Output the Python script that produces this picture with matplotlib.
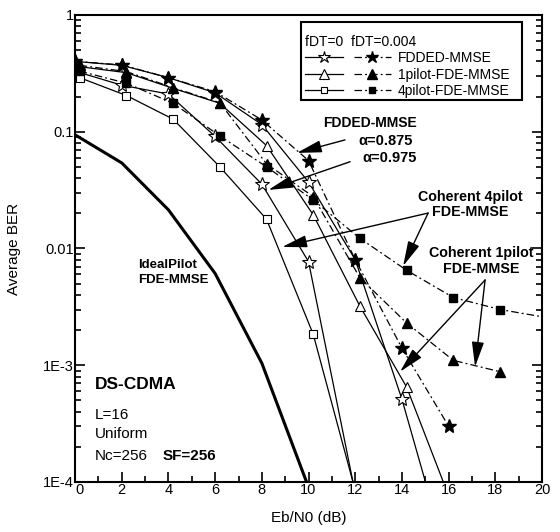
import numpy as np
import matplotlib.pyplot as plt
import matplotlib.transforms as mtransforms
from matplotlib.lines import Line2D
from matplotlib.patches import Rectangle
from matplotlib.legend_handler import HandlerTuple

plt.rcParams['font.family'] = ['Liberation Sans', 'DejaVu Sans']

# Eb/N0 points (stars on even dB, pilot curves slightly shifted as in the source)
snr_star = [0, 2, 4, 6, 8, 10, 12, 14, 16]
snr_pilot = [0.2, 2.2, 4.2, 6.2, 8.2, 10.2, 12.2, 14.2, 16.2, 18.2, 20]
snr_ideal = [0, 2, 4, 6, 8, 10]

# BER values
ideal = [0.094, 0.054, 0.0214, 0.0061, 0.00104, 0.00009]
fdded_0_a875 = [0.40, 0.37, 0.29, 0.215, 0.115, 0.037, 0.008, 0.00051, 0.00002]
fdded_0_a975 = [0.33, 0.25, 0.21, 0.091, 0.0355, 0.0077, 0.00008]
fdded_004 = [0.40, 0.373, 0.29, 0.22, 0.126, 0.0565, 0.008, 0.0014, 0.0003]
p1_0 = [0.36, 0.32, 0.235, 0.175, 0.076, 0.0194, 0.0032, 0.00065, 0.00006]
p1_004 = [0.37, 0.327, 0.238, 0.177, 0.053, 0.0278, 0.0056, 0.0023, 0.0011, 0.00088]
p4_0 = [0.29, 0.204, 0.128, 0.050, 0.0178, 0.00184, 0.00006]
p4_004 = [0.33, 0.26, 0.175, 0.092, 0.050, 0.026, 0.0122, 0.0065, 0.0038, 0.003, 0.0026]

dashdot = (0, (6, 2.5, 1.5, 2.5))
lw = 0.9

fig, ax = plt.subplots(figsize=(5.6, 5.32), dpi=100)
fig.subplots_adjust(left=0.134, right=0.968, top=0.972, bottom=0.094)

ax.plot(snr_ideal, ideal, color='black', lw=2.2)

ax.plot(snr_star[:len(fdded_0_a875)], fdded_0_a875, '-', color='black', lw=lw,
        marker='*', ms=10, mfc='white', mec='black', mew=0.8)
ax.plot(snr_star[:len(fdded_0_a975)], fdded_0_a975, '-', color='black', lw=lw,
        marker='*', ms=10, mfc='white', mec='black', mew=0.8)
ax.plot(snr_star[:len(fdded_004)], fdded_004, ls=dashdot, color='black', lw=lw,
        marker='*', ms=10, mfc='black', mec='black')

ax.plot(snr_pilot[:len(p1_0)], p1_0, '-', color='black', lw=lw,
        marker='^', ms=7, mfc='white', mec='black', mew=0.8)
ax.plot(snr_pilot[:len(p1_004)], p1_004, ls=dashdot, color='black', lw=lw,
        marker='^', ms=7, mfc='black', mec='black')

ax.plot(snr_pilot[:len(p4_0)], p4_0, '-', color='black', lw=lw,
        marker='s', ms=6, mfc='white', mec='black', mew=0.8)
ax.plot(snr_pilot[:len(p4_004)], p4_004, ls=dashdot, color='black', lw=lw,
        marker='s', ms=6, mfc='black', mec='black', markevery=list(range(10)))

ax.set_yscale('log')
ax.set_xlim(0, 20)
ax.set_ylim(1e-4, 1)
ax.set_xticks(range(0, 21, 2))
ax.set_xticks(range(0, 21), minor=True)
ax.set_yticks([1, 0.1, 0.01, 1e-3, 1e-4])
ax.set_yticklabels(['1', '0.1', '0.01', '1E-3', '1E-4'])
ax.tick_params(which='both', direction='in', right=True, top=False, labelsize=10.5,
               width=1.2)
ax.tick_params(which='major', length=7)
ax.tick_params(which='minor', length=4)
ax.tick_params(axis='x', pad=1)
ax.tick_params(axis='y', pad=1)
for s in ax.spines.values():
    s.set_linewidth(1.5)

# nudge the "0" label so it does not run into "1E-4"
lbl0 = ax.get_xticklabels()[0]
lbl0.set_transform(lbl0.get_transform() +
                   mtransforms.ScaledTranslation(4 / 100, 0, fig.dpi_scale_trans))

ax.set_xlabel('Eb/N0 (dB)', fontsize=11, labelpad=10)
ax.set_ylabel('Average BER', fontsize=11, labelpad=16)

# legend: open marker solid (fDT=0), filled marker dash-dot (fDT=0.004)
handles = []
for m, ms in [('*', 9), ('^', 7), ('s', 5)]:
    h0 = Line2D([], [], color='black', lw=lw, marker=m, ms=ms, mfc='white', mec='black', mew=0.8)
    h1 = Line2D([], [], color='black', lw=lw, ls=dashdot, marker=m, ms=ms, mfc='black', mec='black')
    handles.append((h0, h1))
leg = ax.legend(handles, ['FDDED-MMSE', '1pilot-FDE-MMSE', '4pilot-FDE-MMSE'],
                handler_map={tuple: HandlerTuple(ndivide=None, pad=0.8)},
                handlelength=6.2, fontsize=10, title='fDT=0  fDT=0.004',
                title_fontsize=10, alignment='left', loc='upper left',
                bbox_to_anchor=(0.4925, 0.958), borderaxespad=0, frameon=False,
                labelspacing=0.18, handletextpad=0.5, borderpad=0)
ax.add_patch(Rectangle((0.484, 0.818), 0.473, 0.167, transform=ax.transAxes,
                       fill=False, edgecolor='black', lw=1.5, zorder=5))

arrow = dict(arrowstyle='-|>,head_length=0.9,head_width=0.22', color='black',
             lw=1.0, shrinkA=0, shrinkB=0, mutation_scale=17)

ax.text(12.63, 0.119, 'FDDED-MMSE', fontsize=10, fontweight='bold', ha='center', va='center')
ax.text(13.3, 0.0833, 'α=0.875', fontsize=10.5, fontweight='bold', ha='center', va='center')
ax.text(13.45, 0.0596, 'α=0.975', fontsize=10.5, fontweight='bold', ha='center', va='center')
ax.annotate('', xy=(9.5, 0.0658), xytext=(11.56, 0.085), arrowprops=arrow)
ax.annotate('', xy=(8.28, 0.0317), xytext=(11.78, 0.0553), arrowprops=arrow)

ax.text(16.92, 0.0236, 'Coherent 4pilot\nFDE-MMSE', fontsize=10.3, fontweight='bold',
        ha='center', va='center', linespacing=1.1)
ax.annotate('', xy=(8.87, 0.0103), xytext=(15.12, 0.0201), arrowprops=arrow)
ax.annotate('', xy=(14.05, 0.00708), xytext=(15.12, 0.0201), arrowprops=arrow)

ax.text(17.39, 0.0078, 'Coherent 1pilot\nFDE-MMSE', fontsize=10.3, fontweight='bold',
        ha='center', va='center', linespacing=1.1)
ax.annotate('', xy=(13.92, 0.00088), xytext=(17.56, 0.00537), arrowprops=arrow)
ax.annotate('', xy=(17.13, 0.00097), xytext=(17.56, 0.00537), arrowprops=arrow)

ax.text(2.7, 0.0062, 'IdealPilot\nFDE-MMSE', fontsize=9.5, fontweight='bold',
        ha='left', va='center', linespacing=1.35)

ax.text(0.85, 0.000678, 'DS-CDMA', fontsize=12.5, fontweight='bold', ha='left', va='center')
ax.text(0.85, 0.000375, 'L=16', fontsize=11, ha='left', va='center')
ax.text(0.85, 0.000258, 'Uniform', fontsize=11, ha='left', va='center')
ax.text(0.85, 0.000167, 'Nc=256', fontsize=11, ha='left', va='center')
ax.text(3.73, 0.000167, 'SF=256', fontsize=11, fontweight='bold', ha='left', va='center')

fig.savefig('out.png', dpi=100)
